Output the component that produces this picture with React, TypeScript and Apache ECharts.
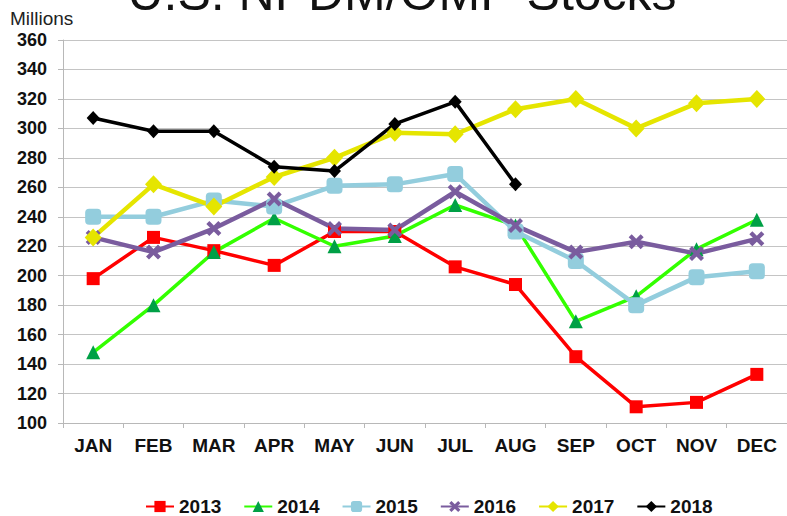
import React, { useEffect, useRef } from "react";
import * as echarts from "echarts";

const months = ["JAN", "FEB", "MAR", "APR", "MAY", "JUN", "JUL", "AUG", "SEP", "OCT", "NOV", "DEC"];
const s2013 = [198, 226, 217, 207, 230, 230, 206, 194, 145, 111, 114, 133];
const s2014 = [148, 180, 216, 239, 220, 227, 248, 234, 169, 186, 218, 238];
const s2015 = [240, 240, 251, 247, 261, 262, 269, 230, 210, 180, 199, 203];
const s2016 = [226, 216, 232, 252, 232, 231, 257, 234, 216, 223, 215, 225];
const s2017 = [226, 262, 247, 267, 280, 297, 296, 313, 320, 300, 317, 320];
const s2018 = [307, 298, 298, 274, 271, 303, 318, 262];
const yMin = 100;
const yMax = 360;
const yStep = 20;

const XSYM = "path://M2,0 L5,3 L8,0 L10,2 L7,5 L10,8 L8,10 L5,7 L2,10 L0,8 L3,5 L0,2 Z";
const FONT = "'Liberation Sans', Arial, sans-serif";

export default function App() {
  const ref = useRef<HTMLDivElement>(null);
  useEffect(() => {
    if (!ref.current) return;
    const chart = echarts.init(ref.current, undefined, { renderer: "svg" });
    const mk = (name: string, data: number[], color: string, lw: number, symbol: string, size: any, markerColor?: string) => ({
      name,
      type: "line",
      data,
      symbol,
      symbolSize: size,
      showSymbol: true,
      lineStyle: { color, width: lw },
      itemStyle: { color: markerColor || color, borderWidth: 0 },
      emphasis: { disabled: true },
    });
    chart.setOption({
      animation: false,
      textStyle: { fontFamily: FONT },
      grid: { left: 63, right: 0, top: 40, bottom: 93, containLabel: false },
      graphic: [
        {
          type: "text",
          left: 10,
          top: 9,
          style: { text: "Millions", fontSize: 19, fontFamily: FONT, fill: "#222" },
        },
        {
          type: "text",
          x: 402,
          y: -7,
          style: {
            text: "U.S. NPDM/OMP Stocks",
            fontSize: 50,
            fontFamily: FONT,
            fill: "#111",
            align: "center",
            verticalAlign: "middle",
          },
        },
      ],
      legend: {
        left: 145,
        top: 497,
        padding: 0,
        itemWidth: 28,
        itemHeight: 14,
        itemGap: 22,
        textStyle: { fontSize: 19, fontWeight: "bold", color: "#111", fontFamily: FONT },
        data: ["2013", "2014", "2015", "2016", "2017", "2018"],
      },
      xAxis: {
        type: "category",
        data: months,
        boundaryGap: true,
        axisLine: { show: true, lineStyle: { color: "#B8B8B8", width: 1 } },
        axisTick: { show: true, length: 5, lineStyle: { color: "#B8B8B8" } },
        axisLabel: { fontSize: 19, fontWeight: "bold", color: "#111", margin: 13, fontFamily: FONT },
        splitLine: { show: false },
      },
      yAxis: {
        type: "value",
        min: yMin,
        max: yMax,
        interval: yStep,
        axisLine: { show: true, lineStyle: { color: "#B8B8B8", width: 1 } },
        axisTick: { show: true, length: 5, lineStyle: { color: "#B8B8B8" } },
        axisLabel: { fontSize: 18, fontWeight: "bold", color: "#111", margin: 16, fontFamily: FONT },
        splitLine: { show: true, lineStyle: { color: "#C4C4C4", width: 1 } },
      },
      series: [
        mk("2013", s2013, "#FF0000", 3.5, "rect", 13),
        mk("2014", s2014, "#33FF00", 3.5, "triangle", 14, "#00A046"),
        mk("2015", s2015, "#93CDDD", 4.5, "roundRect", 16),
        mk("2016", s2016, "#7A5C9E", 4.5, XSYM, 15),
        mk("2017", s2017, "#E5E500", 4.5, "diamond", [17, 18]),
        mk("2018", s2018, "#000000", 3.5, "diamond", [13, 14]),
      ],
    });
    return () => chart.dispose();
  }, []);
  return (
    <div
      ref={ref}
      style={{ position: "absolute", left: 0, top: 0, width: 787, height: 516, background: "#fff" }}
    />
  );
}
